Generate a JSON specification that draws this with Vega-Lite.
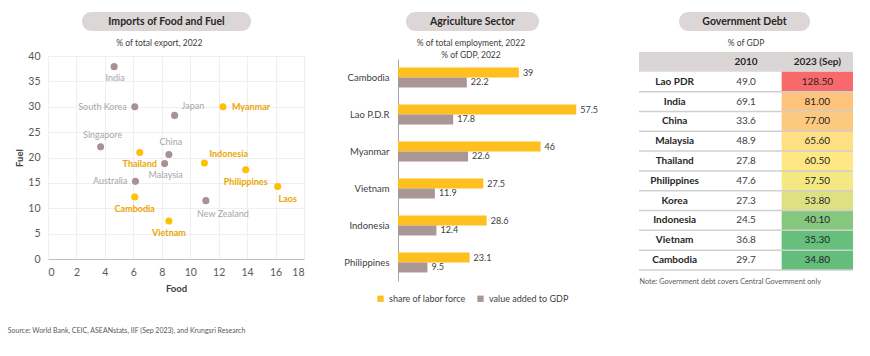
{
  "$schema": "https://vega.github.io/schema/vega-lite/v6.json",
  "background": "white",
  "padding": {"left": 7, "top": 12, "right": 0, "bottom": 0},
  "config": {
    "font": "Lato",
    "view": {"stroke": null},
    "title": {"font": "Lato", "fontSize": 8.5, "fontWeight": "normal", "color": "#404040", "anchor": "middle", "frame": "bounds"},
    "axis": {"labelFont": "Lato", "titleFont": "Lato"},
    "legend": {"labelFont": "Lato"}
  },
  "title": {
    "text": "Source: World Bank, CEIC, ASEANstats, IIF (Sep 2023), and Krungsri Research",
    "orient": "bottom", "anchor": "start", "fontSize": 7, "color": "#595959", "dx": -7, "offset": 23
  },
  "datasets": {
    "scatter": [
      {"country": "India", "food": 4.65, "fuel": 37.9, "group": "other"},
      {"country": "South Korea", "food": 6.1, "fuel": 30.0, "group": "other"},
      {"country": "Japan", "food": 8.9, "fuel": 28.3, "group": "other"},
      {"country": "Myanmar", "food": 12.3, "fuel": 30.0, "group": "focus"},
      {"country": "Singapore", "food": 3.7, "fuel": 22.1, "group": "other"},
      {"country": "Thailand", "food": 6.45, "fuel": 21.0, "group": "focus"},
      {"country": "China", "food": 8.5, "fuel": 20.6, "group": "other"},
      {"country": "Malaysia", "food": 8.2, "fuel": 18.8, "group": "other"},
      {"country": "Indonesia", "food": 11.0, "fuel": 18.9, "group": "focus"},
      {"country": "Philippines", "food": 13.9, "fuel": 17.6, "group": "focus"},
      {"country": "Australia", "food": 6.15, "fuel": 15.3, "group": "other"},
      {"country": "Laos", "food": 16.15, "fuel": 14.3, "group": "focus"},
      {"country": "Cambodia", "food": 6.1, "fuel": 12.2, "group": "focus"},
      {"country": "New Zealand", "food": 11.1, "fuel": 11.5, "group": "other"},
      {"country": "Vietnam", "food": 8.5, "fuel": 7.5, "group": "focus"}
    ],
    "agri": [
      {"country": "Cambodia", "series": "share of labor force", "value": 39},
      {"country": "Cambodia", "series": "value added to GDP", "value": 22.2},
      {"country": "Lao P.D.R", "series": "share of labor force", "value": 57.5},
      {"country": "Lao P.D.R", "series": "value added to GDP", "value": 17.8},
      {"country": "Myanmar", "series": "share of labor force", "value": 46},
      {"country": "Myanmar", "series": "value added to GDP", "value": 22.6},
      {"country": "Vietnam", "series": "share of labor force", "value": 27.5},
      {"country": "Vietnam", "series": "value added to GDP", "value": 11.9},
      {"country": "Indonesia", "series": "share of labor force", "value": 28.6},
      {"country": "Indonesia", "series": "value added to GDP", "value": 12.4},
      {"country": "Philippines", "series": "share of labor force", "value": 23.1},
      {"country": "Philippines", "series": "value added to GDP", "value": 9.5}
    ],
    "debt": [
      {"country": "Lao PDR", "y2010": 49.0, "y2023": 128.5},
      {"country": "India", "y2010": 69.1, "y2023": 81.0},
      {"country": "China", "y2010": 33.6, "y2023": 77.0},
      {"country": "Malaysia", "y2010": 48.9, "y2023": 65.6},
      {"country": "Thailand", "y2010": 27.8, "y2023": 60.5},
      {"country": "Philippines", "y2010": 47.6, "y2023": 57.5},
      {"country": "Korea", "y2010": 27.3, "y2023": 53.8},
      {"country": "Indonesia", "y2010": 24.5, "y2023": 40.1},
      {"country": "Vietnam", "y2010": 36.8, "y2023": 35.3},
      {"country": "Cambodia", "y2010": 29.7, "y2023": 34.8}
    ]
  },
  "spacing": 6,
  "vconcat": [
    {
      "spacing": 0,
      "hconcat": [
        {"width": 34, "height": 19, "view": {"fill": null, "stroke": null}, "data": {"values": []}, "mark": "point"},
        {
          "width": 169, "height": 19,
          "view": {"fill": "#dcd6d6", "cornerRadius": 9.5, "stroke": null},
          "data": {"values": [{}]},
          "mark": {"type": "text", "fontWeight": "bold", "fontSize": 10.5, "color": "#262626"},
          "encoding": {"text": {"value": "Imports of Food and Fuel"}}
        },
        {"width": 155, "height": 19, "view": {"fill": null, "stroke": null}, "data": {"values": []}, "mark": "point"},
        {
          "width": 133, "height": 19,
          "view": {"fill": "#dcd6d6", "cornerRadius": 9.5, "stroke": null},
          "data": {"values": [{}]},
          "mark": {"type": "text", "fontWeight": "bold", "fontSize": 10.5, "color": "#262626"},
          "encoding": {"text": {"value": "Agriculture Sector"}}
        },
        {"width": 140, "height": 19, "view": {"fill": null, "stroke": null}, "data": {"values": []}, "mark": "point"},
        {
          "width": 131, "height": 19,
          "view": {"fill": "#dcd6d6", "cornerRadius": 9.5, "stroke": null},
          "data": {"values": [{}]},
          "mark": {"type": "text", "fontWeight": "bold", "fontSize": 10.5, "color": "#262626"},
          "encoding": {"text": {"value": "Government Debt"}}
        }
      ]
    },
    {
      "spacing": 39,
      "hconcat": [
        {
          "spacing": 0,
          "vconcat": [
            {"width": 1, "height": 1, "view": {"fill": null, "stroke": null}, "data": {"values": []}, "mark": "point"},
            {
              "width": 256, "height": 203,
              "title": {"text": "% of total export, 2022", "offset": 4},
              "data": {"name": "scatter"},
              "encoding": {
                "x": {"field": "food", "type": "quantitative", "scale": {"domain": [0, 18], "nice": false},
                  "axis": {"values": [0, 2, 4, 6, 8, 10, 12, 14, 16, 18], "title": "Food", "grid": true, "gridColor": "#efefef",
                    "domainColor": "#bfbfbf", "ticks": false, "labelPadding": 8, "labelFontSize": 10.5, "labelColor": "#595959",
                    "titleFontSize": 9.5, "titleFontWeight": "bold", "titleColor": "#404040", "titlePadding": 6}},
                "y": {"field": "fuel", "type": "quantitative", "scale": {"domain": [0, 40], "nice": false},
                  "axis": {"values": [0, 5, 10, 15, 20, 25, 30, 35, 40], "title": "Fuel", "grid": true, "gridColor": "#efefef",
                    "domain": false, "ticks": false, "labelPadding": 8, "labelFontSize": 10.5, "labelColor": "#595959",
                    "titleFontSize": 9.5, "titleFontWeight": "bold", "titleColor": "#404040", "titlePadding": 3}}
              },
              "layer": [
                {
                  "mark": {"type": "circle", "size": 50, "opacity": 1},
                  "encoding": {"color": {"field": "group", "type": "nominal", "scale": {"domain": ["focus", "other"], "range": ["#ffc000", "#a8918f"]}, "legend": null}}
                },
                {
                  "transform": [{"filter": {"field": "country", "oneOf": ["Thailand", "Philippines", "Cambodia", "Vietnam"]}}],
                  "mark": {"type": "text", "fontSize": 9, "fontWeight": "bold", "color": "#eaa600", "dy": 12},
                  "encoding": {"text": {"field": "country"}}
                },
                {
                  "transform": [{"filter": {"field": "country", "oneOf": ["Myanmar"]}}],
                  "mark": {"type": "text", "fontSize": 9, "fontWeight": "bold", "color": "#eaa600", "align": "left", "dx": 9},
                  "encoding": {"text": {"field": "country"}}
                },
                {
                  "transform": [{"filter": {"field": "country", "oneOf": ["Indonesia"]}}],
                  "mark": {"type": "text", "fontSize": 9, "fontWeight": "bold", "color": "#eaa600", "align": "left", "dx": 5, "dy": -9},
                  "encoding": {"text": {"field": "country"}}
                },
                {
                  "transform": [{"filter": {"field": "country", "oneOf": ["Laos"]}}],
                  "mark": {"type": "text", "fontSize": 9, "fontWeight": "bold", "color": "#eaa600", "dx": 10, "dy": 13},
                  "encoding": {"text": {"field": "country"}}
                },
                {
                  "transform": [{"filter": {"field": "country", "oneOf": ["India", "Malaysia"]}}],
                  "mark": {"type": "text", "fontSize": 9, "color": "#a6a6a6", "dy": 11, "dx": 1},
                  "encoding": {"text": {"field": "country"}}
                },
                {
                  "transform": [{"filter": {"field": "country", "oneOf": ["New Zealand"]}}],
                  "mark": {"type": "text", "fontSize": 9, "color": "#a6a6a6", "dx": 17, "dy": 13},
                  "encoding": {"text": {"field": "country"}}
                },
                {
                  "transform": [{"filter": {"field": "country", "oneOf": ["South Korea", "Australia"]}}],
                  "mark": {"type": "text", "fontSize": 9, "color": "#a6a6a6", "align": "right", "dx": -8},
                  "encoding": {"text": {"field": "country"}}
                },
                {
                  "transform": [{"filter": {"field": "country", "oneOf": ["Singapore", "China"]}}],
                  "mark": {"type": "text", "fontSize": 9, "color": "#a6a6a6", "dy": -12, "dx": 2},
                  "encoding": {"text": {"field": "country"}}
                },
                {
                  "transform": [{"filter": {"field": "country", "oneOf": ["Japan"]}}],
                  "mark": {"type": "text", "fontSize": 9, "color": "#a6a6a6", "align": "left", "dx": 7, "dy": -9},
                  "encoding": {"text": {"field": "country"}}
                }
              ]
            }
          ]
        },
        {
          "spacing": 39,
          "hconcat": [
            {
              "spacing": 0,
              "vconcat": [
                {"width": 1, "height": 1, "view": {"fill": null, "stroke": null}, "data": {"values": []}, "mark": "point"},
                {
                  "width": 186, "height": 222,
                  "title": {"text": ["% of total employment, 2022", "% of GDP, 2022"], "offset": 0, "lineHeight": 12},
                  "data": {"name": "agri"},
                  "encoding": {
                    "y": {"field": "country", "type": "nominal", "sort": ["Cambodia", "Lao P.D.R", "Myanmar", "Vietnam", "Indonesia", "Philippines"],
                      "scale": {"paddingInner": 0.46, "paddingOuter": 0.23},
                      "axis": {"title": null, "ticks": false, "domainColor": "#a6a6a6", "labelPadding": 9, "labelFontSize": 9.5, "labelColor": "#404040"}},
                    "yOffset": {"field": "series", "type": "nominal", "sort": ["share of labor force", "value added to GDP"], "scale": {"paddingInner": 0, "paddingOuter": 0}},
                    "x": {"field": "value", "type": "quantitative", "scale": {"domain": [0, 60], "nice": false}, "axis": null}
                  },
                  "layer": [
                    {
                      "mark": {"type": "bar"},
                      "encoding": {"color": {"field": "series", "type": "nominal", "scale": {"domain": ["share of labor force", "value added to GDP"], "range": ["#ffbf1f", "#aa9694"]},
                        "legend": {"orient": "none", "legendX": -22, "legendY": 257, "direction": "horizontal", "title": null, "symbolType": "square", "symbolSize": 40, "symbolStrokeWidth": 0,
                          "labelFontSize": 9, "labelColor": "#404040", "columnPadding": 10, "labelOffset": 4}}}
                    },
                    {
                      "mark": {"type": "text", "align": "left", "dx": 4, "fontSize": 9, "color": "#404040"},
                      "encoding": {"text": {"field": "value", "type": "quantitative"}}
                    }
                  ]
                }
              ]
            },
            {
              "spacing": 0,
              "vconcat": [
                {"width": 1, "height": 1, "view": {"fill": null, "stroke": null}, "data": {"values": []}, "mark": "point"},
                {
                  "width": 214, "height": 218,
                  "title": {"text": "% of GDP", "offset": 5},
                  "layer": [
                    {
                      "data": {"values": [{}]},
                      "mark": {"type": "rect", "color": "#dad6d6"},
                      "encoding": {
                        "y": {"datum": " ", "type": "nominal", "scale": {"domain": [" ", "Lao PDR", "India", "China", "Malaysia", "Thailand", "Philippines", "Korea", "Indonesia", "Vietnam", "Cambodia"], "paddingInner": 0, "paddingOuter": 0}, "axis": null}
                      }
                    },
                    {
                      "data": {"name": "debt"},
                      "mark": {"type": "rect"},
                      "encoding": {
                        "x": {"datum": "2023 (Sep)", "type": "nominal", "scale": {"domain": ["Country", "2010", "2023 (Sep)"], "paddingInner": 0, "paddingOuter": 0},
                          "axis": {"orient": "bottom", "labels": false, "ticks": false, "domain": false, "title": "Note: Government debt covers Central Government only",
                            "titleAnchor": "start", "titleAlign": "left", "titleFontSize": 7.3, "titleFontWeight": "normal", "titleColor": "#595959", "titlePadding": 7}},
                        "y": {"field": "country", "type": "nominal", "scale": {"domain": [" ", "Lao PDR", "India", "China", "Malaysia", "Thailand", "Philippines", "Korea", "Indonesia", "Vietnam", "Cambodia"], "paddingInner": 0, "paddingOuter": 0}, "axis": null},
                        "color": {"field": "y2023", "type": "quantitative", "scale": {"domain": [34.8, 59, 128.5], "range": ["#63be7b", "#ffeb84", "#f8696b"], "interpolate": "rgb"}, "legend": null}
                      }
                    },
                    {
                      "data": {"name": "debt"},
                      "mark": {"type": "rule", "color": "#cfcfcf", "strokeWidth": 1.5},
                      "encoding": {
                        "y": {"field": "country", "type": "nominal", "bandPosition": 1, "scale": {"domain": [" ", "Lao PDR", "India", "China", "Malaysia", "Thailand", "Philippines", "Korea", "Indonesia", "Vietnam", "Cambodia"], "paddingInner": 0, "paddingOuter": 0}, "axis": null}
                      }
                    },
                    {
                      "data": {"values": [{"col": "2010"}, {"col": "2023 (Sep)"}]},
                      "mark": {"type": "text", "fontWeight": "bold", "fontSize": 10, "color": "#262626"},
                      "encoding": {
                        "x": {"field": "col", "type": "nominal", "scale": {"domain": ["Country", "2010", "2023 (Sep)"], "paddingInner": 0, "paddingOuter": 0}},
                        "y": {"datum": " ", "type": "nominal", "scale": {"domain": [" ", "Lao PDR", "India", "China", "Malaysia", "Thailand", "Philippines", "Korea", "Indonesia", "Vietnam", "Cambodia"], "paddingInner": 0, "paddingOuter": 0}, "axis": null},
                        "text": {"field": "col"}
                      }
                    },
                    {
                      "data": {"name": "debt"},
                      "mark": {"type": "text", "fontWeight": "bold", "fontSize": 10, "color": "#262626"},
                      "encoding": {
                        "x": {"datum": "Country", "type": "nominal", "scale": {"domain": ["Country", "2010", "2023 (Sep)"], "paddingInner": 0, "paddingOuter": 0}},
                        "y": {"field": "country", "type": "nominal", "scale": {"domain": [" ", "Lao PDR", "India", "China", "Malaysia", "Thailand", "Philippines", "Korea", "Indonesia", "Vietnam", "Cambodia"], "paddingInner": 0, "paddingOuter": 0}, "axis": null},
                        "text": {"field": "country"}
                      }
                    },
                    {
                      "data": {"name": "debt"},
                      "mark": {"type": "text", "fontSize": 10, "color": "#404040"},
                      "encoding": {
                        "x": {"datum": "2010", "type": "nominal", "scale": {"domain": ["Country", "2010", "2023 (Sep)"], "paddingInner": 0, "paddingOuter": 0}},
                        "y": {"field": "country", "type": "nominal", "scale": {"domain": [" ", "Lao PDR", "India", "China", "Malaysia", "Thailand", "Philippines", "Korea", "Indonesia", "Vietnam", "Cambodia"], "paddingInner": 0, "paddingOuter": 0}, "axis": null},
                        "text": {"field": "y2010", "type": "quantitative", "format": ".1f"}
                      }
                    },
                    {
                      "data": {"name": "debt"},
                      "mark": {"type": "text", "fontSize": 10, "color": "#262626"},
                      "encoding": {
                        "x": {"datum": "2023 (Sep)", "type": "nominal", "scale": {"domain": ["Country", "2010", "2023 (Sep)"], "paddingInner": 0, "paddingOuter": 0}},
                        "y": {"field": "country", "type": "nominal", "scale": {"domain": [" ", "Lao PDR", "India", "China", "Malaysia", "Thailand", "Philippines", "Korea", "Indonesia", "Vietnam", "Cambodia"], "paddingInner": 0, "paddingOuter": 0}, "axis": null},
                        "text": {"field": "y2023", "type": "quantitative", "format": ".2f"}
                      }
                    }
                  ]
                }
              ]
            }
          ]
        }
      ]
    }
  ]
}
